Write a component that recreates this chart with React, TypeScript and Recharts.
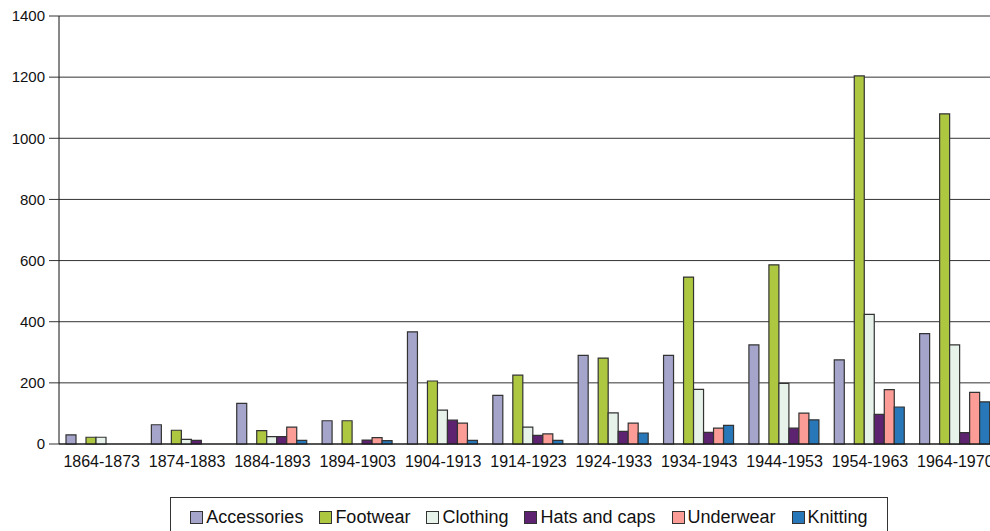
import { BarChart, Bar, XAxis, YAxis, CartesianGrid } from "recharts";

const periods = ["1864-1873", "1874-1883", "1884-1893", "1894-1903", "1904-1913", "1914-1923", "1924-1933", "1934-1943", "1944-1953", "1954-1963", "1964-1970"];

const accessories = [30, 63, 133, 76, 367, 159, 290, 290, 324, 275, 361];
const blank = [0, 0, 0, 0, 0, 0, 0, 0, 0, 0, 0];
const footwear = [22, 45, 44, 76, 206, 225, 281, 546, 586, 1204, 1080];
const clothing = [22, 15, 24, 0, 111, 55, 102, 179, 198, 424, 324];
const hatsAndCaps = [0, 12, 24, 13, 78, 28, 41, 38, 52, 97, 37];
const underwear = [0, 0, 55, 21, 68, 33, 68, 52, 101, 178, 169];
const knitting = [0, 0, 12, 11, 12, 12, 36, 61, 79, 121, 138];

const yTicks = [0, 200, 400, 600, 800, 1000, 1200, 1400];

const series = [
    { key: "Accessories", color: "#a5a5cc" },
    { key: "blank", color: "none" },
    { key: "Footwear", color: "#aec740" },
    { key: "Clothing", color: "#e6f2ea" },
    { key: "Hats and caps", color: "#5e2370" },
    { key: "Underwear", color: "#fc9c96" },
    { key: "Knitting", color: "#2877b8" },
];

const dataChart = periods.map((name, i) => ({
    name,
    "Accessories": accessories[i],
    "blank": blank[i],
    "Footwear": footwear[i],
    "Clothing": clothing[i],
    "Hats and caps": hatsAndCaps[i],
    "Underwear": underwear[i],
    "Knitting": knitting[i],
}));

const font = '"Liberation Sans", Arial, sans-serif';

function ChartLegend() {
    return <div style={{
        position: "absolute", left: 170, top: 497, width: 718, height: 44,
        border: "1px solid #333", boxSizing: "border-box", display: "flex",
        justifyContent: "center", paddingTop: 9, fontFamily: font, fontSize: 18, color: "#111",
    }}>
        {series.filter(s => s.key != "blank").map((s, i, arr) => (
            <div key={s.key} style={{ display: "flex", alignItems: "center", marginRight: i == arr.length - 1 ? 0 : 16, height: 20 }}>
                <span style={{ width: 11, height: 11, background: s.color, border: "1px solid #333", marginRight: 3, display: "inline-block" }} />
                <span>{s.key}</span>
            </div>
        ))}
    </div>
}

export default function App() {
    return <div style={{ position: "absolute", left: 0, top: 0, width: 990, height: 531, overflow: "hidden", background: "#fff" }}>
        <BarChart width={1000} height={531} data={dataChart} barCategoryGap={7} barGap={0}
            margin={{ top: 16, right: 2, left: 0, bottom: 57 }}>
            <CartesianGrid vertical={false} stroke="#333" />
            <XAxis dataKey="name" height={30} axisLine={{ stroke: "#111" }} tickLine={false} tickMargin={6} interval={0}
                tick={{ fontSize: 16, fill: "#111", fontFamily: font }} />
            <YAxis width={59} domain={[0, 1400]} ticks={yTicks} axisLine={{ stroke: "#111" }} tickLine={{ stroke: "#333" }}
                tickSize={10} tickMargin={4} interval={0} tick={{ fontSize: 15, fill: "#111", fontFamily: font }} />
            {series.map(s => (
                <Bar key={s.key} dataKey={s.key} fill={s.color}
                    stroke={s.key == "blank" ? "none" : "#333"} strokeWidth={1.2}
                    isAnimationActive={false} />
            ))}
        </BarChart>
        <ChartLegend />
    </div>
}
